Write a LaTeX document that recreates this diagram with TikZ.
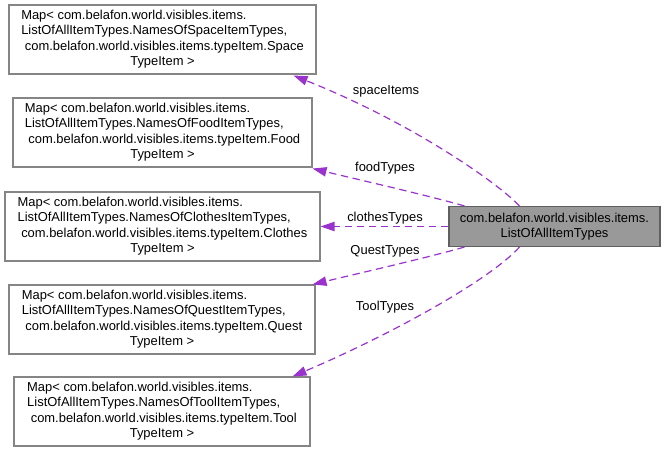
\documentclass[tikz,border=0pt]{standalone}
\usepackage{fontspec}
\setmainfont{Liberation Sans}
\usetikzlibrary{arrows.meta,calc}
\definecolor{edgec}{HTML}{9A32CD}
\definecolor{boxline}{HTML}{858585}
\definecolor{mainfill}{HTML}{999999}
\definecolor{mainline}{HTML}{606060}
\newcommand{\mapbox}[3]{\begin{tabular}{@{}l@{}}Map< com.belafon.world.visibles.items.\\ListOfAllItemTypes.NamesOf#1ItemTypes,\\\ com.belafon.world.visibles.items.typeItem.#2\\\multicolumn{1}{@{}c@{}}{#3TypeItem >}\end{tabular}}
\begin{document}
\begin{tikzpicture}[x=0.75pt,y=-0.75pt,
  every node/.style={font=\fontsize{9.7}{11.6}\selectfont},
  mbox/.style={draw=boxline,line width=0.8pt,fill=white,inner sep=0pt,align=center},
  mainbox/.style={draw=mainline,line width=0.8pt,fill=mainfill,inner sep=0pt,align=center},
  rel/.style={draw=edgec,line width=0.9pt,dash pattern=on 5.5pt off 3.5pt,-{Triangle[length=10.5pt,width=7pt,fill=edgec]}},
  lbl/.style={inner sep=1pt}]
\useasboundingbox (0,0) rectangle (667,453);
\renewcommand{\arraystretch}{1}
\node[mbox,minimum width=307*0.75pt,minimum height=69*0.75pt] (space) at (162.5,39.5) {\mapbox{Space}{Space}{}};
\node[mbox,minimum width=299*0.75pt,minimum height=69*0.75pt] (food) at (162.5,132.5) {\mapbox{Food}{Food}{}};
\node[mbox,minimum width=315*0.75pt,minimum height=69*0.75pt] (clothes) at (162.5,226.5) {\mapbox{Clothes}{Clothes}{}};
\node[mbox,minimum width=306*0.75pt,minimum height=69*0.75pt] (quest) at (162,319.5) {\mapbox{Quest}{Quest}{}};
\node[mbox,minimum width=296*0.75pt,minimum height=69*0.75pt] (tool) at (162,411.5) {\mapbox{Tool}{Tool}{}};
\node[mainbox,minimum width=211*0.75pt,minimum height=40*0.75pt] (main) at (554.5,226.5) {com.belafon.world.visibles.items.\\ListOfAllItemTypes};
% connectors
\draw[rel] ($(main.north west)+(71,0)$) .. controls (497,182) and (410,122) .. ($(space.south east)+(-23,1)$);
\draw[rel] ($(main.north west)+(16,0)$) .. controls (430,196) and (360,180) .. ($(food.south east)+(0,1)$);
\draw[rel] (main.west) -- (clothes.east);
\draw[rel] ($(main.south west)+(16,0)$) .. controls (430,257) and (360,273) .. ($(quest.north east)+(-3,0)$);
\draw[rel] ($(main.south west)+(71,0)$) .. controls (490,280) and (390,335) .. ($(tool.north east)+(-18,0)$);
% labels
\node[lbl] (l1) at (386,91) {spaceItems};
\node[lbl] (l2) at (385,168) {foodTypes};
\node[lbl] (l3) at (385,218) {clothesTypes};
\node[lbl] (l4) at (385,251) {QuestTypes};
\node[lbl] (l5) at (385,307) {ToolTypes};
\end{tikzpicture}
\end{document}
